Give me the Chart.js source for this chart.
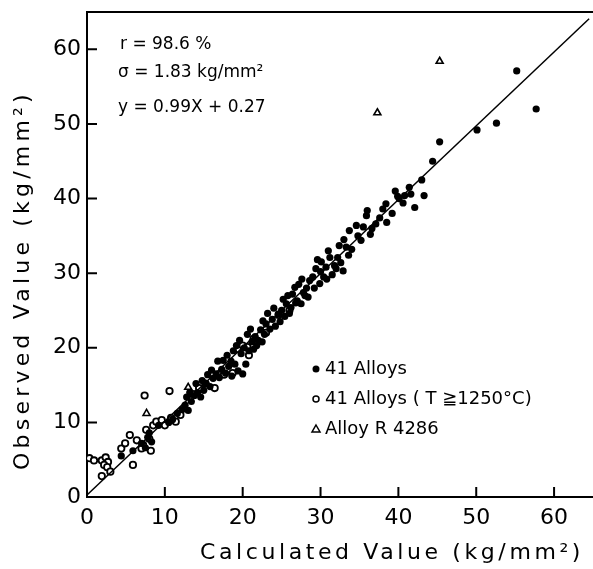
<!DOCTYPE html>
<html>
<head>
<meta charset="utf-8">
<script src="https://cdn.jsdelivr.net/npm/chart.js@4/dist/chart.umd.min.js"></script>
<style>
  html, body { margin: 0; padding: 0; background: #fff; overflow: hidden; }
  #wrap { width: 593px; height: 569px; position: relative; }
  #scatter { display: block; }
</style>
</head>
<body>
<div id="wrap"><canvas id="scatter"></canvas></div>
<script>
// 41 alloys (filled dots)
var alloys = [
  [4.4,5.5],[5.9,6.2],[7.0,7.2],[7.5,6.6],[7.8,8.0],[8.3,7.4],[8.0,8.6],[9.2,9.6],
  [10.5,10.0],[11.0,10.4],[11.6,11.2],[12.2,11.7],[12.6,12.3],[13.0,11.6],[13.4,12.8],
  [13.8,13.6],[14.2,14.0],[14.6,13.4],[15.0,14.3],[15.3,15.2],[15.8,14.8],[16.2,15.9],
  [16.6,16.5],[17.0,16.0],[17.3,17.1],[17.8,16.6],[18.2,17.5],[18.5,18.2],[19.0,17.8],
  [19.4,16.9],[20.0,16.5],[20.4,17.8],[19.8,19.2],[20.2,20.0],[20.8,19.6],[21.2,20.8],
  [21.6,21.5],[22.0,21.0],[22.3,22.4],[22.8,21.8],[23.0,23.2],[23.5,22.5],[23.8,23.8],
  [24.2,22.9],[24.6,24.5],[25.0,25.0],[25.4,24.2],[25.6,25.9],[26.0,24.6],[26.4,27.2],
  [26.7,28.1],[27.0,26.3],[27.5,25.9],[27.8,27.4],[28.2,28.0],[28.6,29.0],[29.0,29.5],
  [29.4,30.6],[29.9,28.6],[30.1,31.5],[30.7,30.8],[31.2,32.1],[31.5,29.8],[32.0,30.6],
  [32.2,32.1],[32.4,33.7],[32.9,30.3],[33.3,33.5],[33.7,35.7],[18.0,19.0],[18.8,19.6],
  [19.2,20.3],[20.6,21.8],[21.0,22.5],[21.8,20.3],[22.5,20.8],[23.2,24.6],[24.0,25.3],
  [24.8,23.5],[25.2,26.5],[26.2,25.4],[26.8,26.0],[27.2,28.5],[28.0,27.0],[28.4,26.8],
  [29.2,28.0],[30.4,29.5],[30.8,29.2],[31.8,31.0],[17.5,18.3],[16.0,17.0],[15.5,16.4],
  [14.8,15.6],[14.0,15.2],[13.2,14.0],[12.8,13.4],[34.6,36.4],[35.2,34.4],[35.9,37.7],
  [36.6,36.0],[37.1,36.6],[38.4,39.3],[38.5,36.8],[39.2,38.0],[39.9,40.3],[40.1,40.0],
  [40.6,39.4],[41.4,41.5],[41.6,40.6],[42.1,38.8],[43.0,42.5],[43.3,40.4],[44.4,45.0],
  [45.3,47.6],[50.1,49.2],[52.6,50.1],[55.2,57.1],[57.7,52.0],[33.0,34.5],[34.0,33.2],
  [34.8,35.0],[35.5,36.2],[36.4,35.2],[37.6,37.4],[38.0,38.6],[22.6,23.6],[21.4,19.8],
  [25.8,27.0],[27.6,29.2],[30.0,30.2],[32.6,31.4],[19.6,21.0],[16.8,18.2],[18.6,16.2],
  [31.0,33.0],[33.6,32.4],[29.6,31.8],[36.0,38.4],[39.6,41.0],[40.8,40.4]
];
// 41 alloys, T >= 1250 C (open circles)
var alloysHot = [
  [0.3,5.2],[0.9,4.9],[1.9,4.9],[2.4,5.3],[2.7,4.7],[2.2,4.3],[2.6,4.0],[1.9,2.8],
  [3.0,3.4],[5.9,4.3],[4.4,6.5],[4.9,7.2],[5.5,8.3],[6.4,7.6],[7.4,13.6],[10.6,14.2],
  [7.2,7.0],[7.6,9.0],[8.0,7.8],[8.2,6.2],[7.0,6.5],[8.5,9.6],[8.9,10.1],[9.6,10.3],
  [10.0,9.6],[10.8,10.6],[11.4,10.1],[12.0,11.0],[13.6,13.8],[14.4,14.6],[15.2,15.2],
  [16.4,14.6],[17.6,16.4],[18.7,16.6],[19.4,19.8],[20.0,20.3],[20.6,20.1],[21.4,21.2],
  [23.0,22.0],[24.6,24.4],[26.0,25.0],[20.8,19.0]
];
// alloy R4286 (open triangles)
var r4286 = [[7.65,11.2],[13.0,14.7],[37.3,51.5],[45.3,58.4]];
// y = 0.99x + 0.27
var fitLine = [[0,0.27],[64.5,64.1]];

var axisTicks = [0, 10, 20, 30, 40, 50, 60];
var notes = ['r = 98.6 %', 'σ = 1.83 kg/mm²', 'y = 0.99X + 0.27'];
var legendLabels = ['41 Alloys', '41 Alloys ( T ≧1250°C)', 'Alloy R 4286'];

function pts(arr) { return arr.map(function (p) { return { x: p[0], y: p[1] }; }); }
function noPad(s) { s.paddingLeft = 0; s.paddingRight = 0; s.paddingTop = 0; s.paddingBottom = 0; }

var frame = {
  id: 'frame',
  afterDraw: function (chart) {
    var c = chart.ctx, a = chart.chartArea, xs = chart.scales.x, ys = chart.scales.y;
    c.save();
    c.strokeStyle = '#000';
    c.lineWidth = 2;
    c.beginPath();
    c.moveTo(a.left, a.top); c.lineTo(chart.width, a.top);
    axisTicks.forEach(function (v) {
      if (v === 0) return;
      var px = xs.getPixelForValue(v), py = ys.getPixelForValue(v);
      c.moveTo(px, a.bottom); c.lineTo(px, a.bottom - 10);
      c.moveTo(a.left, py); c.lineTo(a.left + 10, py);
    });
    c.stroke();

    c.fillStyle = '#000';
    c.textBaseline = 'middle';
    c.font = '17px "DejaVu Sans"';
    c.textAlign = 'left';
    c.fillText(notes[0], 120, 45);
    c.fillText(notes[1], 118, 73);
    c.fillText(notes[2], 118, 108);

    c.font = '18px "DejaVu Sans"';
    var ly = [369, 399, 429];
    legendLabels.forEach(function (t, i) { c.fillText(t, 325, ly[i]); });
    c.lineWidth = 1.5;
    c.beginPath(); c.arc(316, ly[0], 3.5, 0, Math.PI * 2); c.fill();
    c.beginPath(); c.arc(316, ly[1], 3, 0, Math.PI * 2); c.stroke();
    c.beginPath(); c.moveTo(316, ly[2] - 4); c.lineTo(320, ly[2] + 3); c.lineTo(312, ly[2] + 3); c.closePath(); c.stroke();

    c.font = '22px "DejaVu Sans"';
    c.letterSpacing = '3.6px';
    c.textAlign = 'center';
    c.fillText('Calculated Value (kg/mm²)', 392, 553);
    c.letterSpacing = '4.2px';
    c.translate(23, 280);
    c.rotate(-Math.PI / 2);
    c.fillText('Observed Value (kg/mm²)', 0, 0);
    c.restore();
  }
};

new Chart(document.getElementById('scatter').getContext('2d'), {
  type: 'scatter',
  data: {
    datasets: [
      {
        label: 'fit', type: 'line', data: pts(fitLine),
        borderColor: '#000', borderWidth: 1.5, pointRadius: 0, fill: false
      },
      {
        label: legendLabels[0], data: pts(alloys),
        backgroundColor: '#000', borderColor: '#000', pointRadius: 3.6, borderWidth: 0
      },
      {
        label: legendLabels[1], data: pts(alloysHot),
        backgroundColor: '#fff', borderColor: '#000', pointRadius: 3.2, borderWidth: 1.8
      },
      {
        label: legendLabels[2], data: pts(r4286), pointStyle: 'triangle',
        backgroundColor: '#fff', borderColor: '#000', pointRadius: 4, borderWidth: 1.6
      }
    ]
  },
  options: {
    responsive: true,
    maintainAspectRatio: false,
    animation: false,
    layout: { autoPadding: false, padding: { top: 12, right: 0, left: 0, bottom: 0 } },
    plugins: { legend: { display: false }, tooltip: { enabled: false } },
    scales: {
      x: {
        min: 0, max: 65,
        afterFit: function (s) { s.height = 72; noPad(s); },
        afterBuildTicks: function (s) { s.ticks = axisTicks.map(function (v) { return { value: v }; }); },
        border: { display: true, color: '#000', width: 2 },
        grid: { display: false, drawTicks: false },
        ticks: { color: '#000', padding: 8, maxRotation: 0, font: { family: 'DejaVu Sans', size: 22 } }
      },
      y: {
        min: 0, max: 65,
        afterFit: function (s) { s.width = 87; noPad(s); },
        afterBuildTicks: function (s) { s.ticks = axisTicks.map(function (v) { return { value: v }; }); },
        border: { display: true, color: '#000', width: 2 },
        grid: { display: false, drawTicks: false },
        ticks: { color: '#000', padding: 6, font: { family: 'DejaVu Sans', size: 22 } }
      }
    }
  },
  plugins: [frame]
});
</script>
</body>
</html>
